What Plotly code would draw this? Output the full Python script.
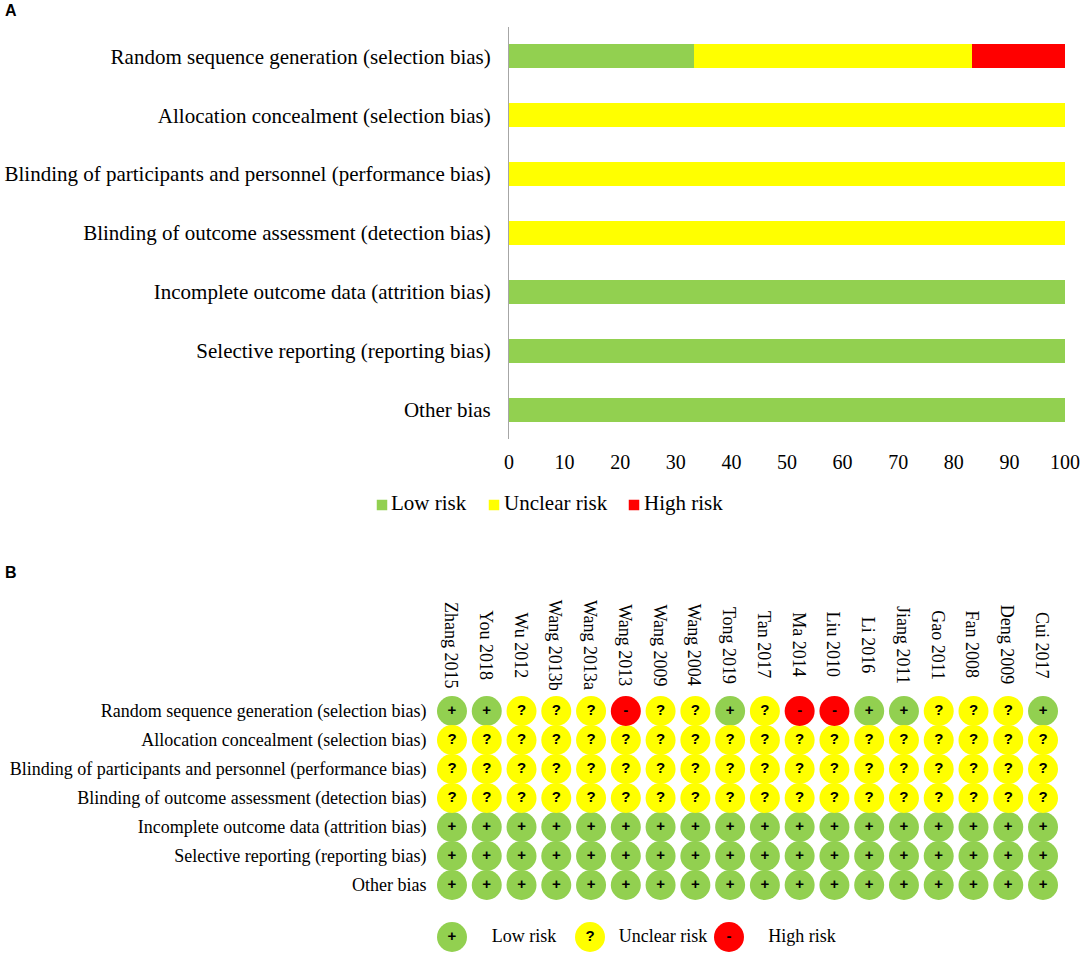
import plotly.graph_objects as go

W, H = 1084, 955
domains = ["Random sequence generation (selection bias)", "Allocation concealment (selection bias)",
           "Blinding of participants and personnel (performance bias)", "Blinding of outcome assessment (detection bias)",
           "Incomplete outcome data (attrition bias)", "Selective reporting (reporting bias)", "Other bias"]
low_pct = [33.33, 0, 0, 0, 100, 100, 100]
unclear_pct = [50, 100, 100, 100, 0, 0, 0]
high_pct = [16.67, 0, 0, 0, 0, 0, 0]
studies = ["Zhang 2015", "You 2018", "Wu 2012", "Wang 2013b", "Wang 2013a", "Wang 2013", "Wang 2009", "Wang 2004",
           "Tong 2019", "Tan 2017", "Ma 2014", "Liu 2010", "Li 2016", "Jiang 2011", "Gao 2011", "Fan 2008",
           "Deng 2009", "Cui 2017"]
ratings = [
    list("++???-??+?--++???+"),
    list("??????????????????"),
    list("??????????????????"),
    list("??????????????????"),
    list("++++++++++++++++++"),
    list("++++++++++++++++++"),
    list("++++++++++++++++++"),
]
risk_names = ["Low risk", "Unclear risk", "High risk"]
risk_symbols = ["+", "?", "-"]
GREEN, YELLOW, RED = "#92D050", "#FFFF00", "#FF0000"
risk_colors = [GREEN, YELLOW, RED]
SERIF = "Liberation Serif"
SANS = "Liberation Sans"


def px(a, b, size):
    return [a / size, b / size]


def py(top, bottom):
    return [1 - bottom / H, 1 - top / H]


fig = go.Figure()

# Panel A
for name, vals, col in zip(risk_names, [low_pct, unclear_pct, high_pct], risk_colors):
    fig.add_trace(go.Bar(y=domains, x=vals, name=name, orientation="h", marker=dict(color=col, line_width=0),
                         width=0.41, xaxis="x", yaxis="y", showlegend=False))

# Panel A key, on pixel-scaled axes (swatch beside its label)
keyA_swatch_x = [382, 494, 634]
keyA_label_x = [391, 504, 644]
fig.add_trace(go.Scatter(x=keyA_swatch_x, y=[0, 0, 0], mode="markers", showlegend=False, cliponaxis=False,
                         marker=dict(size=10.5, symbol="square", color=risk_colors, line_width=0),
                         xaxis="x3", yaxis="y4"))
fig.add_trace(go.Scatter(x=keyA_label_x, y=[0, 0, 0], mode="text", text=risk_names, showlegend=False, cliponaxis=False,
                         textfont=dict(family=SERIF, size=21, color="black"), textposition="middle right",
                         xaxis="x3", yaxis="y4"))

# Panel B
for i, (name, sym, col) in enumerate(zip(risk_names, risk_symbols, risk_colors)):
    xs, ys = [], []
    for row, dom in zip(ratings, domains):
        for st, r in zip(studies, row):
            if r == sym:
                xs.append(st)
                ys.append(dom)
    fig.add_trace(go.Scatter(x=xs, y=ys, mode="markers+text", text=[sym] * len(xs), showlegend=False,
                             marker=dict(size=30, color=col, line_width=0), cliponaxis=False,
                             textfont=dict(family=SANS, size=15, color="black", weight="bold"),
                             textposition="middle center", xaxis="x2", yaxis="y2"))

# Panel B key, on its own pixel-scaled axes
key_x = [452, 590, 729]
key_label_x = [524, 663, 802]
fig.add_trace(go.Scatter(x=key_x, y=[0, 0, 0], mode="markers+text", text=risk_symbols, showlegend=False,
                         marker=dict(size=30, color=risk_colors, line_width=0), cliponaxis=False,
                         textfont=dict(family=SANS, size=15, color="black", weight="bold"),
                         textposition="middle center", xaxis="x3", yaxis="y3"))
fig.add_trace(go.Scatter(x=key_label_x, y=[0, 0, 0], mode="text", text=risk_names, showlegend=False,
                         textfont=dict(family=SERIF, size=18, color="black"), cliponaxis=False,
                         textposition="middle center", xaxis="x3", yaxis="y3"))

annotations = [
    dict(text="<b>A</b>", x=3 / W, y=1 - 11 / H, xref="paper", yref="paper", xanchor="left", yanchor="middle",
         showarrow=False, font=dict(family=SANS, size=16, color="black")),
    dict(text="<b>B</b>", x=3 / W, y=1 - 572 / H, xref="paper", yref="paper", xanchor="left", yanchor="middle",
         showarrow=False, font=dict(family=SANS, size=16, color="black")),
]
for st in studies:
    annotations.append(dict(text=st, x=st, xref="x2", y=1 - 645 / H, yref="paper", textangle=90, showarrow=False,
                            xanchor="center", yanchor="middle", xshift=-1,
                            font=dict(family=SERIF, size=18, color="black")))

fig.update_layout(
    width=W, height=H, margin=dict(l=0, r=0, t=0, b=0, autoexpand=False), paper_bgcolor="white", plot_bgcolor="white",
    barmode="stack", bargap=0.59,
    showlegend=False,
    annotations=annotations,
    xaxis=dict(domain=px(509, 1065, W), range=[0, 100], anchor="y", tickvals=list(range(0, 101, 10)),
               showgrid=False, zeroline=False, showline=False, ticks="", ticklabelstandoff=9, automargin=False,
               tickfont=dict(family=SERIF, size=20, color="black")),
    yaxis=dict(domain=py(27, 439), range=[6.5, -0.5], anchor="x", type="category", categoryorder="array",
               categoryarray=domains, showgrid=False, zeroline=False, showline=True, linecolor="#A6A6A6", linewidth=1,
               ticks="", ticklabelstandoff=13, automargin=False, tickfont=dict(family=SERIF, size=21, color="black")),
    xaxis2=dict(domain=px(434.6, 1060.4, W), range=[-0.5, 17.5], type="category", categoryorder="array",
                categoryarray=studies, anchor="y2", showgrid=False, zeroline=False, showline=False,
                showticklabels=False, ticks="", automargin=False),
    yaxis2=dict(domain=py(696.5, 899.5), range=[6.5, -0.5], type="category", categoryorder="array",
                categoryarray=domains, anchor="x2", showgrid=False, zeroline=False, showline=False, ticks="",
                ticklabelstandoff=7, automargin=False, tickfont=dict(family=SERIF, size=18, color="black")),
    xaxis3=dict(domain=[0, 1], range=[0, W], anchor="y3", visible=False, automargin=False),
    yaxis3=dict(domain=py(922, 952), range=[-1, 1], anchor="x3", visible=False, automargin=False),
    yaxis4=dict(domain=py(490, 520), range=[-1, 1], anchor="x3", visible=False, automargin=False),
)

fig.write_html("out.html", config=dict(displayModeBar=False), post_script="document.body.style.margin='0';")
